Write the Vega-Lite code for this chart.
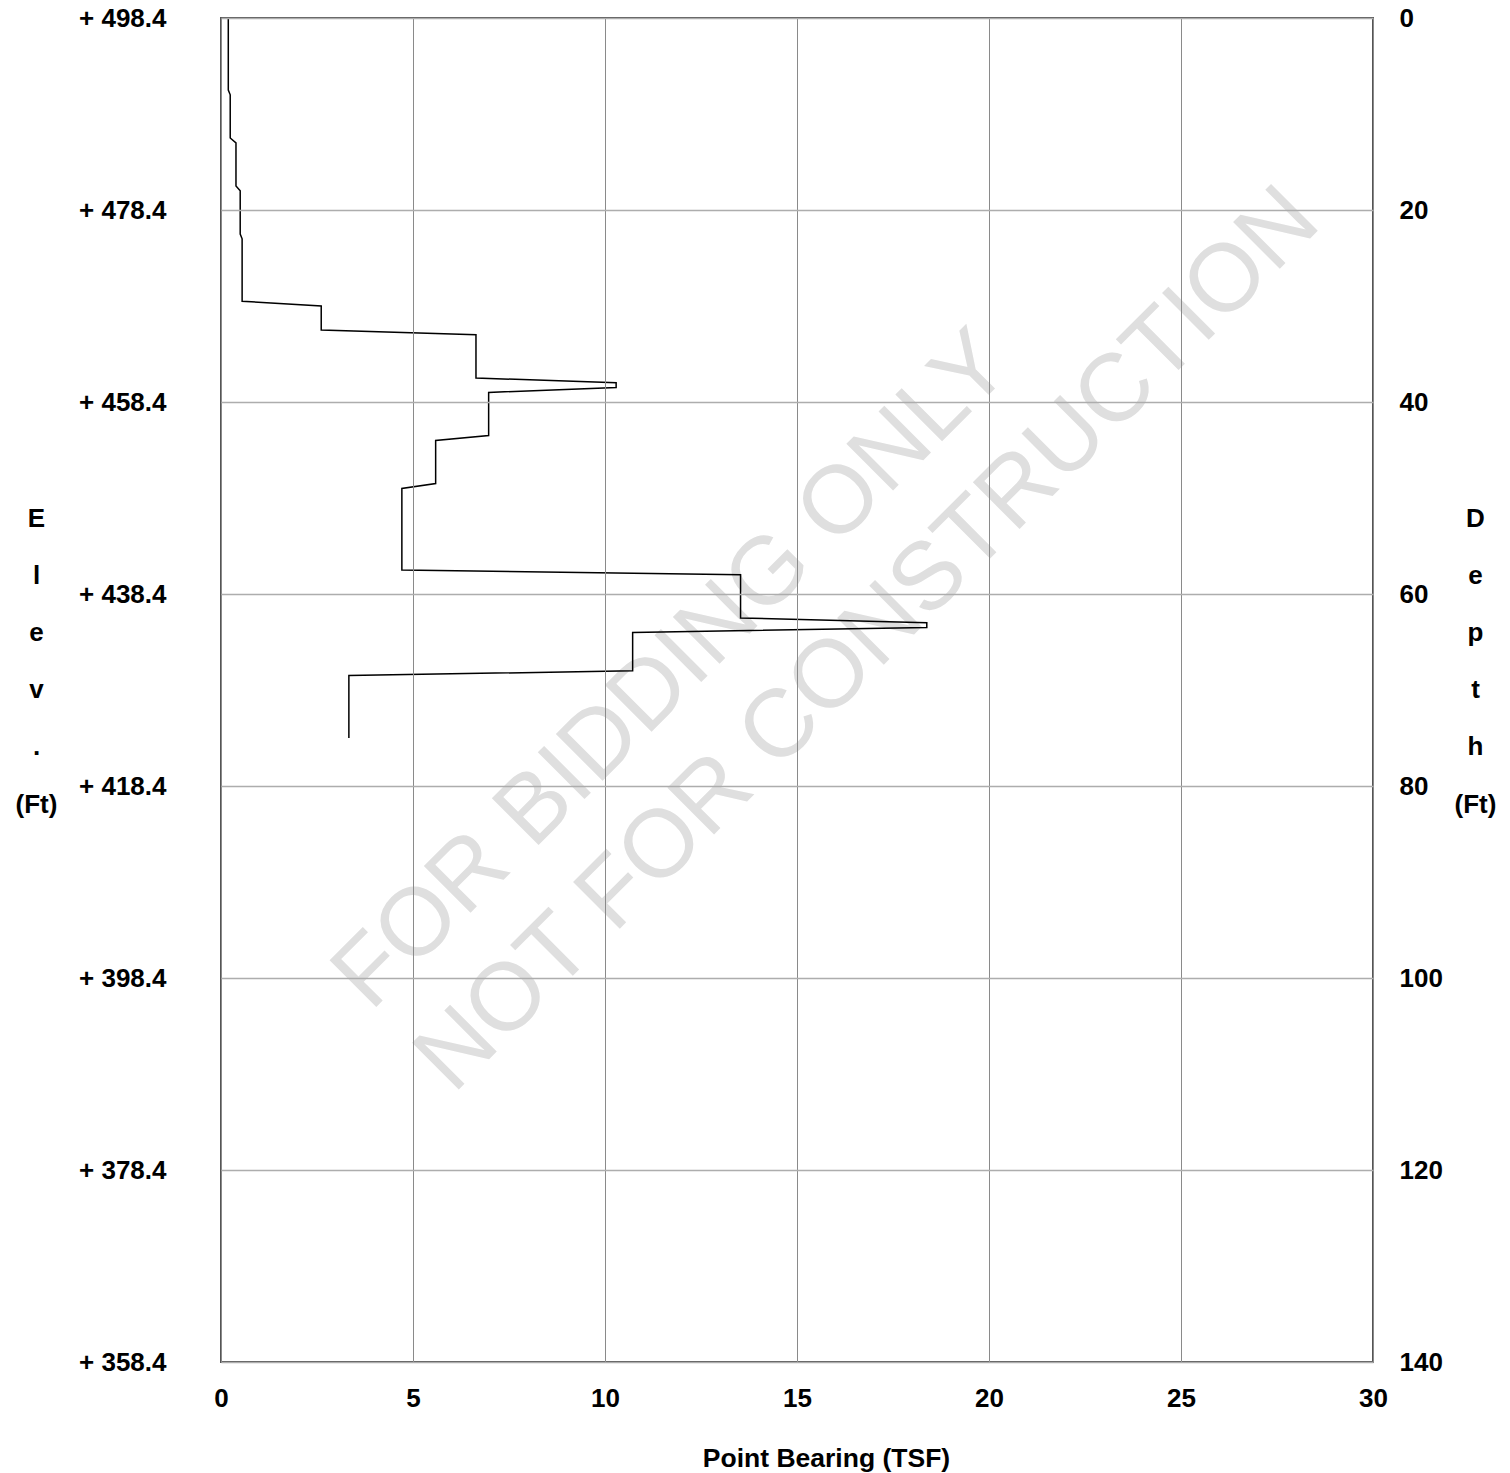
{
  "$schema": "https://vega.github.io/schema/vega-lite/v6.json",
  "width": 1152,
  "height": 1344,
  "autosize": {"type": "none"},
  "padding": {"left": 221, "top": 18, "right": 137, "bottom": 111},
  "background": "white",
  "config": {
    "view": {"stroke": "#555555", "strokeWidth": 2},
    "font": "Liberation Sans"
  },
  "datasets": {
    "profile": [
      {"depth": 0, "tsf": 0.19},
      {"depth": 7.5, "tsf": 0.19},
      {"depth": 8.0, "tsf": 0.24},
      {"depth": 12.5, "tsf": 0.24},
      {"depth": 13.0, "tsf": 0.39},
      {"depth": 17.5, "tsf": 0.39},
      {"depth": 18.0, "tsf": 0.50},
      {"depth": 22.5, "tsf": 0.50},
      {"depth": 23.0, "tsf": 0.55},
      {"depth": 29.5, "tsf": 0.55},
      {"depth": 30.0, "tsf": 2.61},
      {"depth": 32.5, "tsf": 2.61},
      {"depth": 33.0, "tsf": 6.64},
      {"depth": 37.5, "tsf": 6.64},
      {"depth": 38.0, "tsf": 10.29},
      {"depth": 38.5, "tsf": 10.29},
      {"depth": 39.0, "tsf": 6.97},
      {"depth": 43.5, "tsf": 6.97},
      {"depth": 44.0, "tsf": 5.59},
      {"depth": 48.5, "tsf": 5.59},
      {"depth": 49.0, "tsf": 4.71},
      {"depth": 57.5, "tsf": 4.71},
      {"depth": 58.0, "tsf": 13.53},
      {"depth": 62.5, "tsf": 13.53},
      {"depth": 63.0, "tsf": 18.38},
      {"depth": 63.5, "tsf": 18.38},
      {"depth": 64.0, "tsf": 10.72},
      {"depth": 68.0, "tsf": 10.72},
      {"depth": 68.5, "tsf": 3.33},
      {"depth": 75.0, "tsf": 3.33}
    ],
    "watermark": [
      {"label": "FOR BIDDING ONLY", "tsf": 3.9, "depth": 103.6},
      {"label": "NOT FOR CONSTRUCTION", "tsf": 6.05, "depth": 112.2}
    ]
  },
  "layer": [
    {
      "data": {"name": "watermark"},
      "mark": {"type": "text", "angle": -45, "align": "left", "baseline": "alphabetic", "fontSize": 96, "font": "Liberation Sans", "fontWeight": "normal", "color": "#dfdfdf"},
      "encoding": {
        "x": {
          "field": "tsf", "type": "quantitative",
          "scale": {"domain": [0, 30], "nice": false, "zero": false},
          "axis": {
            "orient": "bottom",
            "values": [0, 5, 10, 15, 20, 25, 30],
            "grid": true, "gridColor": "#8a8a8a", "gridWidth": 1,
            "domain": false, "ticks": false, "tickSize": 0,
            "labelPadding": 23, "labelFontSize": 26, "labelFontWeight": "bold", "labelColor": "#000000", "labelFont": "Liberation Sans",
            "labelFlush": false, "labelOverlap": false,
            "title": "Point Bearing (TSF)",
            "titleX": 605, "titleY": 104, "titleAlign": "center", "titleBaseline": "alphabetic",
            "titleFontSize": 26.5, "titleFontWeight": "bold", "titleColor": "#000000", "titleFont": "Liberation Sans",
            "zindex": 1
          }
        },
        "y": {
          "field": "depth", "type": "quantitative",
          "scale": {"domain": [0, 140], "nice": false, "zero": false, "reverse": true},
          "axis": {
            "orient": "right",
            "values": [0, 20, 40, 60, 80, 100, 120, 140],
            "grid": false, "domain": false, "ticks": false, "tickSize": 0,
            "labelPadding": 26, "labelAlign": "left", "labelBaseline": "middle",
            "labelFontSize": 26, "labelFontWeight": "bold", "labelColor": "#000000", "labelFont": "Liberation Sans",
            "labelOverlap": false, "labelFlush": false,
            "title": ["D", "e", "p", "t", "h", "(Ft)"],
            "titleAngle": 0, "titleX": 102, "titleY": 508, "titleAlign": "center", "titleBaseline": "alphabetic",
            "titleLineHeight": 57.2, "titleFontSize": 26, "titleFontWeight": "bold", "titleColor": "#000000", "titleFont": "Liberation Sans"
          }
        },
        "text": {"field": "label", "type": "nominal"}
      }
    },
    {
      "data": {"name": "profile"},
      "mark": {"type": "line", "color": "#000000", "strokeWidth": 1.5},
      "encoding": {
        "x": {
          "field": "tsf", "type": "quantitative",
          "scale": {"domain": [0, 30], "nice": false, "zero": false},
          "axis": {
            "orient": "bottom",
            "values": [0, 5, 10, 15, 20, 25, 30],
            "grid": true, "gridColor": "#8a8a8a", "gridWidth": 1,
            "domain": false, "ticks": false, "tickSize": 0,
            "labelPadding": 23, "labelFontSize": 26, "labelFontWeight": "bold", "labelColor": "#000000", "labelFont": "Liberation Sans",
            "labelFlush": false, "labelOverlap": false,
            "title": "Point Bearing (TSF)",
            "titleX": 605, "titleY": 104, "titleAlign": "center", "titleBaseline": "alphabetic",
            "titleFontSize": 26.5, "titleFontWeight": "bold", "titleColor": "#000000", "titleFont": "Liberation Sans",
            "zindex": 1
          }
        },
        "y": {
          "field": "depth", "type": "quantitative",
          "scale": {"domain": [0, 140], "nice": false, "zero": false, "reverse": true},
          "axis": {
            "orient": "left",
            "values": [0, 20, 40, 60, 80, 100, 120, 140],
            "labelExpr": "'+ ' + format(498.4 - datum.value, '.1f')",
            "grid": true, "gridColor": "#adadad", "gridWidth": 1.5,
            "domain": false, "ticks": false, "tickSize": 0,
            "labelPadding": 55, "labelAlign": "right", "labelBaseline": "middle",
            "labelFontSize": 26, "labelFontWeight": "bold", "labelColor": "#000000", "labelFont": "Liberation Sans",
            "labelOverlap": false, "labelFlush": false,
            "title": ["E", "l", "e", "v", ".", "(Ft)"],
            "titleAngle": 0, "titleX": -185, "titleY": 508, "titleAlign": "center", "titleBaseline": "alphabetic",
            "titleLineHeight": 57.2, "titleFontSize": 26, "titleFontWeight": "bold", "titleColor": "#000000", "titleFont": "Liberation Sans",
            "zindex": 1
          }
        },
        "order": {"field": "depth", "type": "quantitative"}
      }
    }
  ],
  "resolve": {"axis": {"y": "independent"}}
}
